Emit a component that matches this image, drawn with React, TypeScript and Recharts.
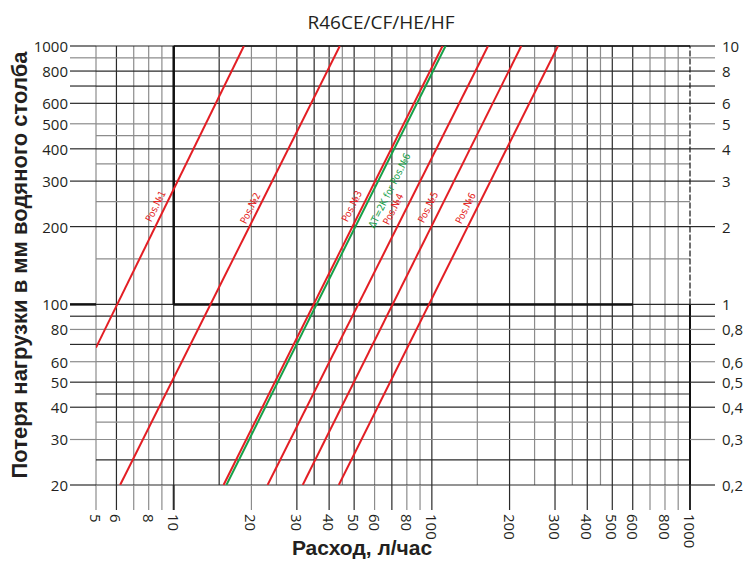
import { ComposedChart, Line, XAxis, YAxis, ReferenceLine, ReferenceDot } from 'recharts';

// flow, l/h (log axis)
const X_TICKS = [5, 6, 7, 8, 9, 10, 20, 30, 40, 50, 60, 70, 80, 90, 100, 200, 300, 400, 500, 600, 700, 800, 900, 1000];
const X_LABELS = [5, 6, 8, 10, 20, 30, 40, 50, 60, 80, 100, 200, 300, 400, 500, 600, 800, 1000];
const X_HALF = [15, 25, 35, 45, 150, 250, 350, 450];

// pressure loss, mm water column (log axis)
const Y_TICKS = [20, 30, 40, 50, 60, 70, 80, 90, 100, 200, 300, 400, 500, 600, 700, 800, 900, 1000];
const Y_LABELS = [20, 30, 40, 50, 60, 80, 100, 200, 300, 400, 500, 600, 800, 1000];
const Y_HALF = [25, 35, 45, 150, 250, 350, 450];

// same scale in kPa-ish units on the right
const R_TICKS = [0.2, 0.3, 0.4, 0.5, 0.6, 0.7, 0.8, 0.9, 1, 2, 3, 4, 5, 6, 7, 8, 9, 10];
const R_LABELS = [0.2, 0.3, 0.4, 0.5, 0.6, 0.8, 1, 2, 3, 4, 5, 6, 8, 10];

// curves: [flow, loss] at both ends
const POS_1 = [{ q: 5, dp: 68 }, { q: 18.7, dp: 1000 }];
const POS_2 = [{ q: 6.2, dp: 20 }, { q: 44, dp: 1000 }];
const POS_3 = [{ q: 15.6, dp: 20 }, { q: 110, dp: 1000 }];
const POS_6_DT2K = [{ q: 16, dp: 20 }, { q: 113, dp: 1000 }];
const POS_4 = [{ q: 23.1, dp: 20 }, { q: 165, dp: 1000 }];
const POS_5 = [{ q: 31.6, dp: 20 }, { q: 222, dp: 1000 }];
const POS_6 = [{ q: 43.6, dp: 20 }, { q: 308, dp: 1000 }];

const TAGS = [
  { name: 'Pos.№1', q: 8.5, dp: 240, green: false },
  { name: 'Pos.№2', q: 19.8, dp: 236, green: false },
  { name: 'Pos.№3', q: 49, dp: 240, green: false },
  { name: 'ΔT=2K for Pos.№6', q: 68.5, dp: 276, green: true },
  { name: 'Pos.№4', q: 70.8, dp: 234, green: false },
  { name: 'Pos.№5', q: 96.6, dp: 238, green: false },
  { name: 'Pos.№6', q: 135, dp: 236, green: false },
];

const RED = '#e31e24';
const GREEN = '#17a04a';
const DARK = '#2a2a2a';
const LIGHT = '#8c8c8c';
const FONT = '"Open Sans", "Liberation Sans", sans-serif';

const X_DARK = [6, 10, 15, 30, 35, 40, 50, 70, 100, 200, 300, 400, 500, 600, 1000];
const Y_DARK = [20, 25, 40, 45, 50, 70, 90, 100, 200, 300, 400, 600, 700, 800, 1000];

const xColor = (v: number) => (X_DARK.includes(v) ? DARK : LIGHT);
const yColor = (v: number) => (Y_DARK.includes(v) ? DARK : LIGHT);

const fmtComma = (v: number) => String(v).replace('.', ',');

function XTick(props: any) {
  const { x, y, payload } = props;
  const v = payload.value;
  return (
    <g>
      <line x1={x} x2={x} y1={y} y2={y + 25} stroke={xColor(v)} strokeWidth={v === 10 || v === 1000 ? 2 : 1.2} />
      {X_LABELS.includes(v) && (
        <text
          transform={`translate(${x},${y + 29}) rotate(90)`}
          textAnchor="start"
          dominantBaseline="central"
          fontSize={15}
          fontFamily={FONT}
          fill="#231f20"
        >
          {v}
        </text>
      )}
    </g>
  );
}

function YTick(props: any) {
  const { x, y, payload } = props;
  const v = payload.value;
  return (
    <g>
      <line x1={x - 26} x2={x} y1={y} y2={y} stroke={v === 100 ? '#111' : yColor(v)} strokeWidth={v === 100 ? 2.5 : 1.2} />
      {Y_LABELS.includes(v) && (
        <text x={x - 28} y={y} textAnchor="end" dominantBaseline="central" fontSize={15} fontFamily={FONT} fill="#231f20">
          {v}
        </text>
      )}
    </g>
  );
}

function RTick(props: any) {
  const { x, y, payload } = props;
  const v = payload.value;
  return (
    <g>
      <line x1={x} x2={x + 25} y1={y} y2={y} stroke={yColor(v * 100)} strokeWidth={1.2} />
      {R_LABELS.includes(v) && (
        <text x={x + 32} y={y} textAnchor="start" dominantBaseline="central" fontSize={15} fontFamily={FONT} fill="#231f20">
          {fmtComma(v)}
        </text>
      )}
    </g>
  );
}

function LineTag(props: any) {
  const { viewBox, tagText, tagColor } = props;
  const cx = viewBox.x + viewBox.width / 2;
  const cy = viewBox.y + viewBox.height / 2;
  return (
    <text
      x={cx}
      y={cy}
      transform={`rotate(-63.4 ${cx} ${cy})`}
      textAnchor="middle"
      dominantBaseline="central"
      fontSize={10}
      fontFamily='"Liberation Sans Narrow", "DejaVu Sans Condensed", sans-serif'
      fill={tagColor}
    >
      {tagText}
    </text>
  );
}

const SERIES = [
  { key: 'p1', data: POS_1, color: RED },
  { key: 'p2', data: POS_2, color: RED },
  { key: 'p3', data: POS_3, color: RED },
  { key: 'p6dt', data: POS_6_DT2K, color: GREEN },
  { key: 'p4', data: POS_4, color: RED },
  { key: 'p5', data: POS_5, color: RED },
  { key: 'p6', data: POS_6, color: RED },
];

export default function App() {
  return (
    <div style={{ position: 'absolute', left: 0, top: 0, width: 745, height: 563, background: '#fff' }}>
      <ComposedChart width={745} height={563} margin={{ top: 46, right: 0, bottom: 0, left: 0 }}>
        <XAxis
          type="number"
          dataKey="q"
          scale="log"
          domain={[5, 1000]}
          allowDataOverflow
          ticks={X_TICKS}
          interval={0}
          axisLine={false}
          tickLine={false}
          tickSize={0}
          tickMargin={0}
          height={78}
          tick={<XTick />}
        />
        <YAxis
          yAxisId="l"
          type="number"
          dataKey="dp"
          scale="log"
          domain={[20, 1000]}
          allowDataOverflow
          ticks={Y_TICKS}
          interval={0}
          axisLine={false}
          tickLine={false}
          tickSize={0}
          tickMargin={0}
          width={96}
          tick={<YTick />}
        />
        <YAxis
          yAxisId="r"
          orientation="right"
          type="number"
          scale="log"
          domain={[0.2, 10]}
          allowDataOverflow
          ticks={R_TICKS}
          interval={0}
          axisLine={false}
          tickLine={false}
          tickSize={0}
          tickMargin={0}
          width={55}
          tick={<RTick />}
        />

        {[...X_TICKS.filter((v) => v !== 1000), ...X_HALF].map((v) => (
          <ReferenceLine key={`vx${v}`} yAxisId="l" x={v} stroke={xColor(v)} strokeWidth={1.2} />
        ))}
        {[...Y_TICKS, ...Y_HALF].map((v) => (
          <ReferenceLine key={`hy${v}`} yAxisId="l" y={v} stroke={yColor(v)} strokeWidth={1.2} />
        ))}

        <ReferenceLine yAxisId="l" segment={[{ x: 1000, y: 100 }, { x: 1000, y: 1000 }]} stroke="#111" strokeWidth={1.2} strokeDasharray="6 2" />
        <ReferenceLine yAxisId="l" segment={[{ x: 1000, y: 20 }, { x: 1000, y: 100 }]} stroke="#111" strokeWidth={2} />
        <ReferenceLine yAxisId="l" segment={[{ x: 10, y: 100 }, { x: 10, y: 1000 }]} stroke="#111" strokeWidth={2.5} />
        <ReferenceLine yAxisId="l" segment={[{ x: 10, y: 100 }, { x: 600, y: 100 }]} stroke="#111" strokeWidth={2.5} />
        <ReferenceLine yAxisId="l" segment={[{ x: 10, y: 1000 }, { x: 1000, y: 1000 }]} stroke="#111" strokeWidth={1.5} />

        {SERIES.map((s) => (
          <Line
            key={s.key}
            yAxisId="l"
            data={s.data}
            dataKey="dp"
            type="linear"
            stroke={s.color}
            strokeWidth={2}
            dot={false}
            activeDot={false}
            isAnimationActive={false}
          />
        ))}

        {TAGS.map((t) => (
          <ReferenceDot
            key={t.name}
            yAxisId="l"
            x={t.q}
            y={t.dp}
            r={0}
            fill="none"
            stroke="none"
            label={<LineTag tagText={t.name} tagColor={t.green ? GREEN : RED} />}
          />
        ))}
      </ComposedChart>

      <div
        style={{
          position: 'absolute',
          left: 231,
          top: 9,
          width: 300,
          textAlign: 'center',
          fontFamily: FONT,
          fontSize: 19,
          lineHeight: '26px',
          color: '#231f20',
        }}
      >
        R46CE/CF/HE/HF
      </div>
      <div
        style={{
          position: 'absolute',
          left: 20 - 260,
          top: 265 - 13,
          width: 520,
          height: 26,
          lineHeight: '26px',
          textAlign: 'center',
          transform: 'rotate(-90deg)',
          fontFamily: '"Liberation Sans", Arial, sans-serif',
          fontWeight: 'bold',
          fontSize: 22,
          color: '#231f20',
          whiteSpace: 'nowrap',
        }}
      >
        Потеря нагрузки в мм водяного столба
      </div>
      <div
        style={{
          position: 'absolute',
          left: 212,
          top: 535,
          width: 300,
          lineHeight: '26px',
          textAlign: 'center',
          fontFamily: '"Liberation Sans", Arial, sans-serif',
          fontWeight: 'bold',
          fontSize: 21,
          color: '#231f20',
        }}
      >
        Расход, л/час
      </div>
    </div>
  );
}
